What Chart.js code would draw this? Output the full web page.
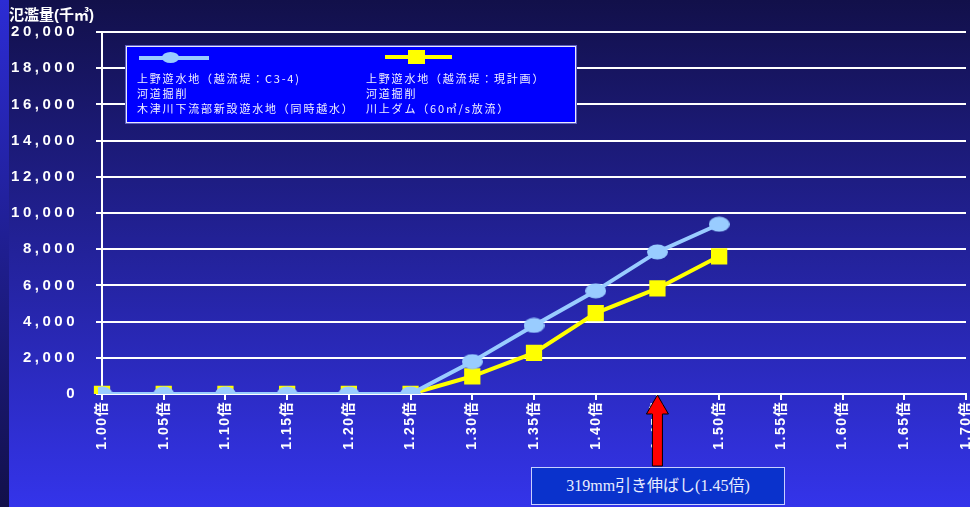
<!DOCTYPE html>
<html>
<head>
<meta charset="utf-8">
<script src="https://cdn.jsdelivr.net/npm/chart.js@4/dist/chart.umd.min.js"></script>
<style>
  body { margin: 0; background: #1a1870; }
  #wrap { position: relative; width: 970px; height: 507px; overflow: hidden; }
  #chart { position: absolute; left: 0; top: 0; }
  .ytitle { position: absolute; left: 9px; top: 3px; color: #fff; font: bold 15px "Liberation Sans", "Noto Sans CJK JP", sans-serif; }
  .legend { position: absolute; left: 126px; top: 46px; width: 448px; height: 75px; background: #0000ff; border: 1px solid #e8e8ff; box-shadow: 0 0 0 1px #6060c0; }
  .legend .txt { position: absolute; top: 24px; color: #f0f0ff; font: 11px "Noto Sans CJK JP", sans-serif; line-height: 15px; letter-spacing: 1.8px; white-space: pre; }
  .swatch { position: absolute; }
  .note { position: absolute; left: 531px; top: 467px; width: 252px; height: 36px; background: #0a32cc; border: 1px solid #c8d0ff; color: #e8ecff; font: 16px "Liberation Serif", "Noto Sans CJK JP", serif; line-height: 36px; text-align: center; }
</style>
</head>
<body>
<div id="wrap">
  <canvas id="chart" width="970" height="507"></canvas>
  <div class="ytitle">氾濫量(千㎥)</div>
  <div class="legend">
    <div class="swatch" style="left:12px;top:9px;width:70px;height:4px;background:#99ccff"></div>
    <div class="swatch" style="left:35px;top:5px;width:17px;height:11px;border-radius:50%;background:#99ccff"></div>
    <div class="swatch" style="left:258px;top:8px;width:67px;height:4px;background:#ffff00"></div>
    <div class="swatch" style="left:281px;top:3px;width:17px;height:14px;background:#ffff00"></div>
    <div class="txt" style="left:10px">上野遊水地（越流堤：C3-4)
河道掘削
木津川下流部新設遊水地（同時越水）</div>
    <div class="txt" style="left:239px">上野遊水地（越流堤：現計画）
河道掘削
川上ダム（60㎥/s放流）</div>
  </div>
  <div class="note">319mm引き伸ばし(1.45倍)</div>
</div>
<script>
var categories = ['1.00倍','1.05倍','1.10倍','1.15倍','1.20倍','1.25倍','1.30倍','1.35倍','1.40倍','1.45倍','1.50倍','1.55倍','1.60倍','1.65倍','1.70倍'];
// 上野遊水地(C3-4) + 河道掘削 + 木津川下流部新設遊水地
var seriesBlue = [0, 0, 0, 0, 0, 0, 1790, 3790, 5700, 7850, 9380, null, null, null, null];
// 上野遊水地(現計画) + 河道掘削 + 川上ダム
var seriesYellow = [0, 0, 0, 0, 0, 0, 980, 2270, 4470, 5830, 7610, null, null, null, null];
var arrowAt = '1.45倍';

// ellipse marker for the blue line
var ellipse = document.createElement('canvas');
ellipse.width = 21; ellipse.height = 16;
var ec = ellipse.getContext('2d');
ec.fillStyle = '#99ccff';
ec.beginPath();
ec.ellipse(10.5, 8, 10.5, 7.5, 0, 0, Math.PI * 2);
ec.fill();

// letter spacing per axis (tick labels in the original are spread out)
function spaced(s, px) {
  if (s._spaced) return;
  s._spaced = true;
  var d = s.draw;
  s.draw = function(a) {
    this.ctx.letterSpacing = px;
    d.call(this, a);
    this.ctx.letterSpacing = '0px';
  };
}

var backdrop = {
  id: 'backdrop',
  beforeDraw: function(chart) {
    var ctx = chart.ctx, w = chart.width, h = chart.height;
    var g = ctx.createLinearGradient(0, 0, 0, h);
    g.addColorStop(0, '#12104a');
    g.addColorStop(1, '#3434ea');
    ctx.save();
    ctx.fillStyle = g;
    ctx.fillRect(0, 0, w, h);
    var g2 = ctx.createLinearGradient(0, 0, 0, h);
    g2.addColorStop(0, '#2c2cd4');
    g2.addColorStop(1, '#12104a');
    ctx.fillStyle = g2;
    ctx.fillRect(0, 0, 9, h);
    ctx.restore();
  },
  afterDraw: function(chart) {
    var ctx = chart.ctx;
    // red arrow pointing at 1.45倍
    var x = chart.scales.x.getPixelForValue(categories.indexOf(arrowAt));
    var y = chart.chartArea.bottom + 1;
    ctx.save();
    ctx.beginPath();
    ctx.moveTo(x, y);
    ctx.lineTo(x + 11, y + 19);
    ctx.lineTo(x + 5, y + 19);
    ctx.lineTo(x + 5, y + 71);
    ctx.lineTo(x - 5, y + 71);
    ctx.lineTo(x - 5, y + 19);
    ctx.lineTo(x - 11, y + 19);
    ctx.closePath();
    ctx.fillStyle = '#ff0000';
    ctx.fill();
    ctx.lineWidth = 1;
    ctx.strokeStyle = '#000000';
    ctx.stroke();
    ctx.restore();
  }
};

new Chart(document.getElementById('chart'), {
  type: 'line',
  data: {
    labels: categories,
    datasets: [
      {
        label: '上野遊水地（越流堤：C3-4) 河道掘削 木津川下流部新設遊水地（同時越水）',
        data: seriesBlue,
        borderColor: '#99ccff',
        backgroundColor: '#99ccff',
        borderWidth: 4,
        pointStyle: ellipse,
        pointBorderWidth: 0,
        tension: 0,
        fill: false
      },
      {
        label: '上野遊水地（越流堤：現計画） 河道掘削 川上ダム（60㎥/s放流）',
        data: seriesYellow,
        borderColor: '#ffff00',
        backgroundColor: '#ffff00',
        borderWidth: 4,
        pointStyle: 'rect',
        pointRadius: 11.5,
        pointBorderWidth: 0,
        tension: 0,
        fill: false
      }
    ]
  },
  options: {
    responsive: false,
    animation: false,
    layout: { autoPadding: false, padding: { top: 32, right: 4, left: 0, bottom: 0 } },
    plugins: {
      legend: { display: false },
      tooltip: { enabled: false }
    },
    scales: {
      x: {
        offset: false,
        afterFit: function(s) {
          s.height = 113;
          s.paddingLeft = 0;
          s.paddingRight = 0;
          spaced(s, '1.5px');
        },
        grid: { drawOnChartArea: false, drawTicks: true, tickLength: 6, color: '#ffffff', lineWidth: 2 },
        border: { color: '#ffffff', width: 2 },
        ticks: {
          color: '#ffffff',
          font: { family: '"Liberation Sans", "Noto Sans CJK JP", sans-serif', size: 14, weight: 'bold' },
          minRotation: 90, maxRotation: 90,
          padding: 1,
          autoSkip: false
        }
      },
      y: {
        min: 0, max: 20000,
        afterFit: function(s) {
          s.width = 102;
          s.paddingTop = 0;
          s.paddingBottom = 0;
          spaced(s, '3.5px');
        },
        grid: { color: '#ffffff', lineWidth: 2, drawTicks: true, tickLength: 6 },
        border: { color: '#ffffff', width: 2 },
        ticks: {
          stepSize: 2000,
          color: '#ffffff',
          padding: 18,
          font: { family: '"Liberation Sans", sans-serif', size: 15, weight: 'bold' },
          callback: function(v) { return v.toLocaleString('en-US'); }
        }
      }
    }
  },
  plugins: [backdrop]
});
</script>
</body>
</html>
